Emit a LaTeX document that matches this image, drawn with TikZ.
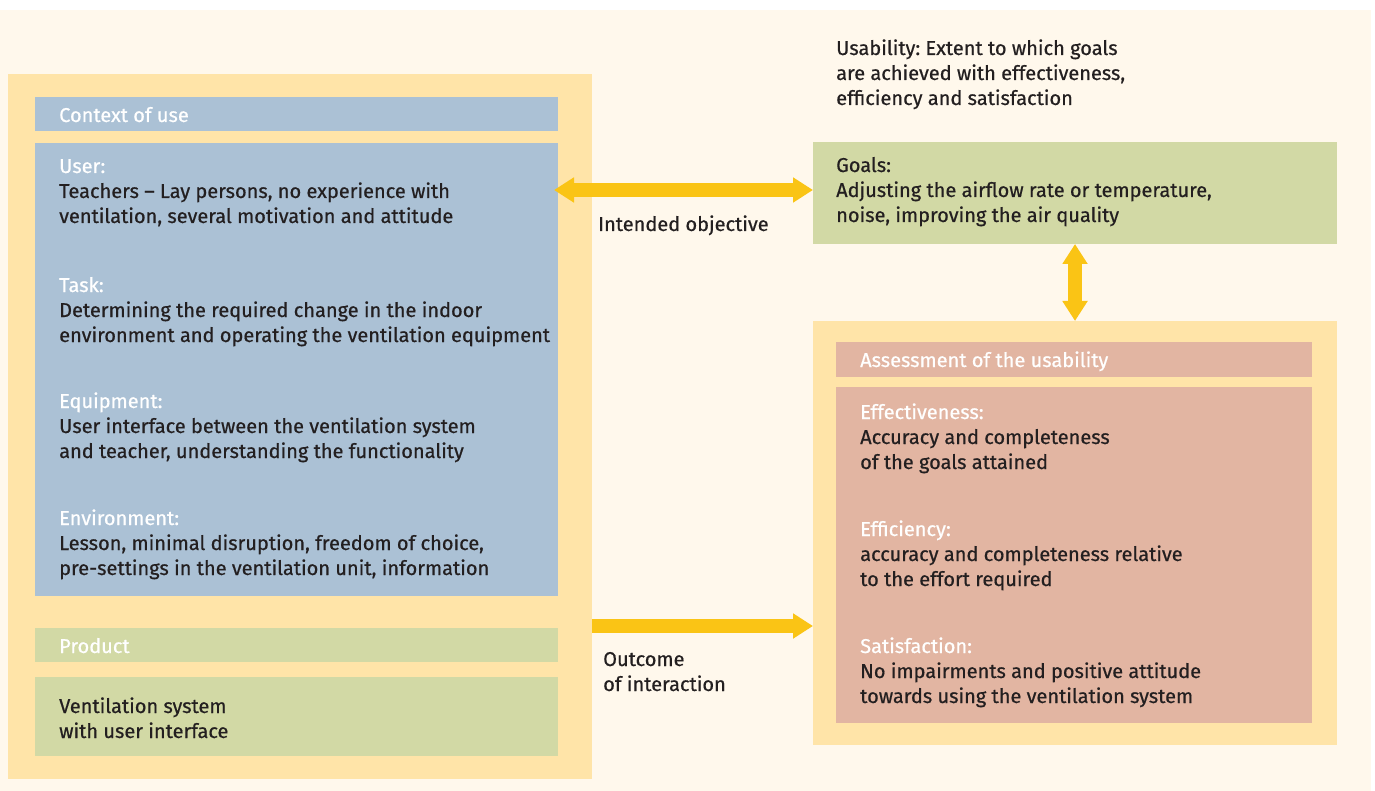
\documentclass[tikz,border=0pt]{standalone}
\usepackage{fontspec}
\setmainfont{Fira Sans}[FakeBold=0.6]
\usetikzlibrary{arrows.meta}
\frenchspacing
\definecolor{cream}{HTML}{FFF8EC}
\definecolor{panel}{HTML}{FFE4A8}
\definecolor{ctxblue}{HTML}{ABC1D5}
\definecolor{prodgreen}{HTML}{D2D9A5}
\definecolor{assess}{HTML}{E2B5A2}
\definecolor{arrowgold}{HTML}{FAC415}
\definecolor{ink}{HTML}{231F20}
\tikzset{goldtip/.tip={Triangle[width=24pt,length=20pt]}}
\begin{document}
\begin{tikzpicture}[x=1pt,y=-1pt,
  area/.style={draw=none,inner sep=0pt,outer sep=0pt,anchor=north west},
  txt/.style={inner sep=0pt,anchor=base west,align=left,font=\fontsize{20}{25}\selectfont,text=ink},
  head/.style={txt,text=white},
  link/.style={draw=arrowgold,line width=14pt},
]
\useasboundingbox (0,0) rectangle (1375,791);
\fill[white] (0,0) rectangle (1375,791);
\fill[cream] (0,10) rectangle (1371,791);

% left panel: context of use and product
\node[area,fill=panel,minimum width=584pt,minimum height=705pt] (left) at (8,74) {};
\node[area,fill=ctxblue,minimum width=523pt,minimum height=34pt] (ctxhead) at (35,97) {};
\node[area,fill=ctxblue,minimum width=523pt,minimum height=453pt] (ctx) at (35,143) {};
\node[area,fill=prodgreen,minimum width=523pt,minimum height=34pt] (prodhead) at (35,628) {};
\node[area,fill=prodgreen,minimum width=523pt,minimum height=79pt] (prod) at (35,677) {};

% goals
\node[area,fill=prodgreen,minimum width=524pt,minimum height=102pt] (goals) at (813,142) {};

% right panel: assessment
\node[area,fill=panel,minimum width=524pt,minimum height=424pt] (right) at (813,321) {};
\node[area,fill=assess,minimum width=476pt,minimum height=35pt] (ashead) at (836,342) {};
\node[area,fill=assess,minimum width=476pt,minimum height=336pt] (as) at (836,387) {};

% texts (each anchored at the baseline of its last line)
\node[head] (t-ctx) at (59,122) {Context of use};
\node[txt] (t-user) at (59,223) {\textcolor{white}{User:}\\Teachers -- Lay persons, no experience with\\ventilation, several motivation and attitude};
\node[txt] (t-task) at (59,342) {\textcolor{white}{Task:}\\Determining the required change in the indoor\\environment and operating the ventilation equipment};
\node[txt] (t-equip) at (59,458) {\textcolor{white}{Equipment:}\\User interface between the ventilation system\\and teacher, understanding the functionality};
\node[txt] (t-env) at (59,575) {\textcolor{white}{Environment:}\\Lesson, minimal disruption, freedom of choice,\\pre-settings in the ventilation unit, information};
\node[head] (t-prod) at (59,653) {Product};
\node[txt] (t-vent) at (59,738) {Ventilation system\\with user interface};

\node[txt] (t-usab) at (836,105) {Usability: Extent to which goals\\are achieved with effectiveness,\\efficiency and satisfaction};
\node[txt] (t-goals) at (836,222) {Goals:\\Adjusting the airflow rate or temperature,\\noise, improving the air quality};

\node[head] (t-as) at (860,367) {Assessment of the usability};
\node[txt] (t-eff) at (860,469) {\textcolor{white}{Effectiveness:}\\Accuracy and completeness\\of the goals attained};
\node[txt] (t-effi) at (860,586) {\textcolor{white}{Efficiency:}\\accuracy and completeness relative\\to the effort required};
\node[txt] (t-sat) at (860,703) {\textcolor{white}{Satisfaction:}\\No impairments and positive attitude\\towards using the ventilation system};

\node[txt] (t-int) at (598,231) {Intended objective};
\node[txt] (t-out) at (603,691) {Outcome\\of interaction};

% connectors
\draw[link,goldtip-goldtip] ([xshift=-4pt]ctx.east |- {0,190}) -- (goals.west |- {0,190});
\draw[link,goldtip-goldtip] (goals.south) -- (right.north);
\draw[link,-goldtip] (left.east |- {0,626}) -- (right.west |- {0,626});
\end{tikzpicture}
\end{document}
